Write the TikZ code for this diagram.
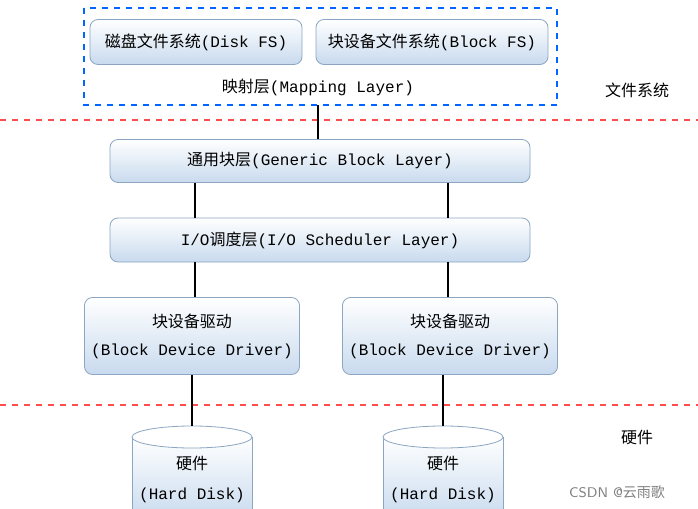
\documentclass[tikz,border=0pt]{standalone}
\usepackage{fontspec}
\setmainfont{Liberation Mono}
\newfontfamily\cjk{Noto Sans CJK SC}
\usetikzlibrary{shapes.geometric}
\definecolor{boxb}{RGB}{200,218,238}
\definecolor{edge}{RGB}{140,165,195}
\begin{document}
\begin{tikzpicture}[x=0.5pt,y=-0.5pt,
 box/.style={draw=edge,rounded corners=4pt,top color=white,bottom color=boxb,inner sep=0pt,font=\fontsize{8}{10}\selectfont},
 con/.style={line width=1.4pt,black}]
\useasboundingbox (0,0) rectangle (698,509);
\draw[blue!60!cyan,dashed,line width=0.8pt] (84,8) rectangle (557,105);
\node[box,minimum width=106pt,minimum height=22.5pt] (d) at (196,42) {{\cjk 磁盘文件系统}(Disk FS)};
\node[box,minimum width=116pt,minimum height=22.5pt] (b) at (432,42) {{\cjk 块设备文件系统}(Block FS)};
\node[font=\fontsize{8}{10}\selectfont] (m) at (318,87) {{\cjk 映射层}(Mapping Layer)};
\node[font=\fontsize{8}{10}\selectfont] (fs) at (637,90) {\cjk 文件系统};
\node[font=\fontsize{8}{10}\selectfont] (hw) at (637,437) {\cjk 硬件};
\draw[red!70,dashed,line width=0.8pt] (0,120) -- (698,120);
\draw[red!70,dashed,line width=0.8pt] (0,405) -- (698,405);
\coordinate (mt) at (318,105);
\node[box,minimum width=210pt,minimum height=21.5pt] (g) at (320,161) {{\cjk 通用块层}(Generic Block Layer)};
\node[box,minimum width=210pt,minimum height=22pt] (s) at (320,240) {I/O{\cjk 调度层}(I/O Scheduler Layer)};
\node[box,minimum width=107.5pt,minimum height=38.5pt,align=center] (dr1) at (192,336) {{\cjk 块设备驱动}\\[4pt](Block Device Driver)};
\node[box,minimum width=107.5pt,minimum height=38.5pt,align=center] (dr2) at (450,336) {{\cjk 块设备驱动}\\[4pt](Block Device Driver)};
\begin{scope}
\clip (0,0) rectangle (698,509);
\foreach \n/\x in {h1/192,h2/443}{
 \fill[top color=white,bottom color=boxb] (\x-60,437) -- (\x-60,520) -- (\x+60,520) -- (\x+60,437) -- cycle;
 \draw[edge] (\x-60,437) -- (\x-60,520) (\x+60,437) -- (\x+60,520);
 \draw[edge,fill=white] (\x,437) ellipse (30pt and 5.5pt);
}
\end{scope}
\node[font=\fontsize{8}{10}\selectfont,align=center] (h1) at (192,479) {{\cjk 硬件}\\[5pt](Hard Disk)};
\node[font=\fontsize{8}{10}\selectfont,align=center] (h2) at (443,479) {{\cjk 硬件}\\[5pt](Hard Disk)};
\coordinate (c1) at (192,426); \coordinate (c2) at (443,426);
\draw[con] (mt) -- (g.north -| mt);
\draw[con] (g.south -| 195,0) -- (s.north -| 195,0);
\draw[con] (g.south -| 448,0) -- (s.north -| 448,0);
\draw[con] (s.south -| 195,0) -- (dr1.north -| 195,0);
\draw[con] (s.south -| 448,0) -- (dr2.north -| 448,0);
\draw[con] (dr1.south -| c1) -- (c1);
\draw[con] (dr2.south -| c2) -- (c2);
\node[gray,font=\sffamily\fontsize{7}{9}\selectfont] (w) at (617,492) {CSDN @{\cjk 云雨歌}};
\end{tikzpicture}
\end{document}
